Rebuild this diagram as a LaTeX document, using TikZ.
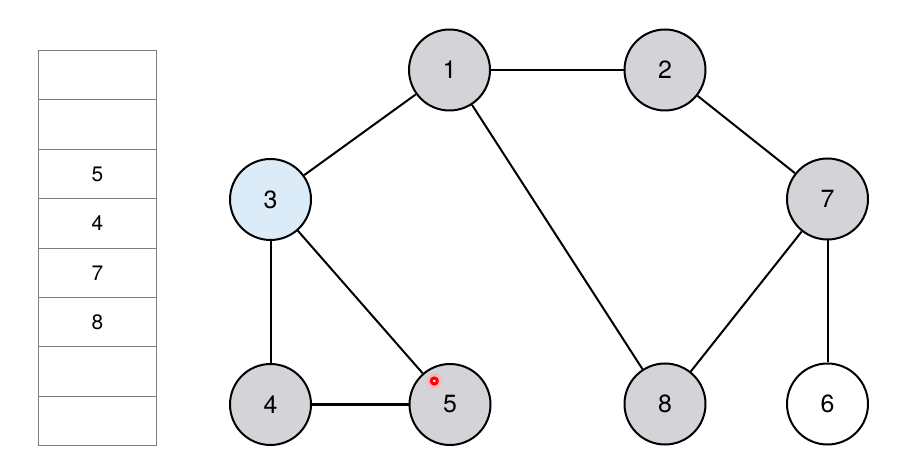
\documentclass[tikz,border=0pt]{standalone}
\usepackage{fontspec}
\setmainfont{TeX Gyre Heros}
\begin{document}
\begin{tikzpicture}[x=1bp,y=-1bp,
  vtx/.style={circle,draw=black,line width=2bp,minimum size=81bp,inner sep=0pt,fill=vgray,font=\fontsize{25}{25}\selectfont},
  vcur/.style={vtx,fill=vblue},
  vnew/.style={vtx,fill=white},
  edge/.style={line width=2bp,draw=black},
  cell/.style={draw=cellgray,line width=1bp,minimum width=118bp,minimum height=49.4bp,inner sep=0pt,anchor=north west,font=\fontsize{21}{21}\selectfont},
  ptrglow/.style={fill=red!30,opacity=0.7},
  ptrdot/.style={draw=red,line width=3bp,fill=white}]
\definecolor{vgray}{HTML}{D4D3D8}
\definecolor{vblue}{HTML}{DCEBF8}
\definecolor{cellgray}{HTML}{7E7E7E}
\useasboundingbox[fill=white] (0,0) rectangle (902,466);
% stack
\node[cell] (c1) at (38,50) {};
\node[cell] (c2) at (38,99.4) {};
\node[cell] (c3) at (38,148.8) {5};
\node[cell] (c4) at (38,198.2) {4};
\node[cell] (c5) at (38,247.6) {7};
\node[cell] (c6) at (38,297) {8};
\node[cell] (c7) at (38,346.4) {};
\node[cell] (c8) at (38,395.8) {};
% vertices
\node[vtx] (n1) at (449.5,70) {1};
\node[vtx] (n2) at (665,70) {2};
\node[vcur] (n3) at (270.5,199.5) {3};
\node[vtx] (n7) at (827.5,199) {7};
\node[vtx] (n4) at (270.5,404.5) {4};
\node[vtx] (n5) at (450,404.5) {5};
\node[vtx] (n8) at (665,404) {8};
\node[vnew] (n6) at (827.5,404) {6};
% edges
\draw[edge] (n1) -- (n2);
\draw[edge] (n1) -- (n3);
\draw[edge] (n1) -- (n8);
\draw[edge] (n2) -- (n7);
\draw[edge] (n3) -- (n4);
\draw[edge] (n3) -- (n5);
\draw[edge] (n4) -- (n5);
\draw[edge] (n7) -- (n8);
\draw[edge] (n7) -- (n6);
% pointer dot
\coordinate (ptr) at (434.3,381);
\fill[ptrglow] (ptr) circle (8bp);
\draw[ptrdot] (ptr) circle (3bp);
\end{tikzpicture}
\end{document}
